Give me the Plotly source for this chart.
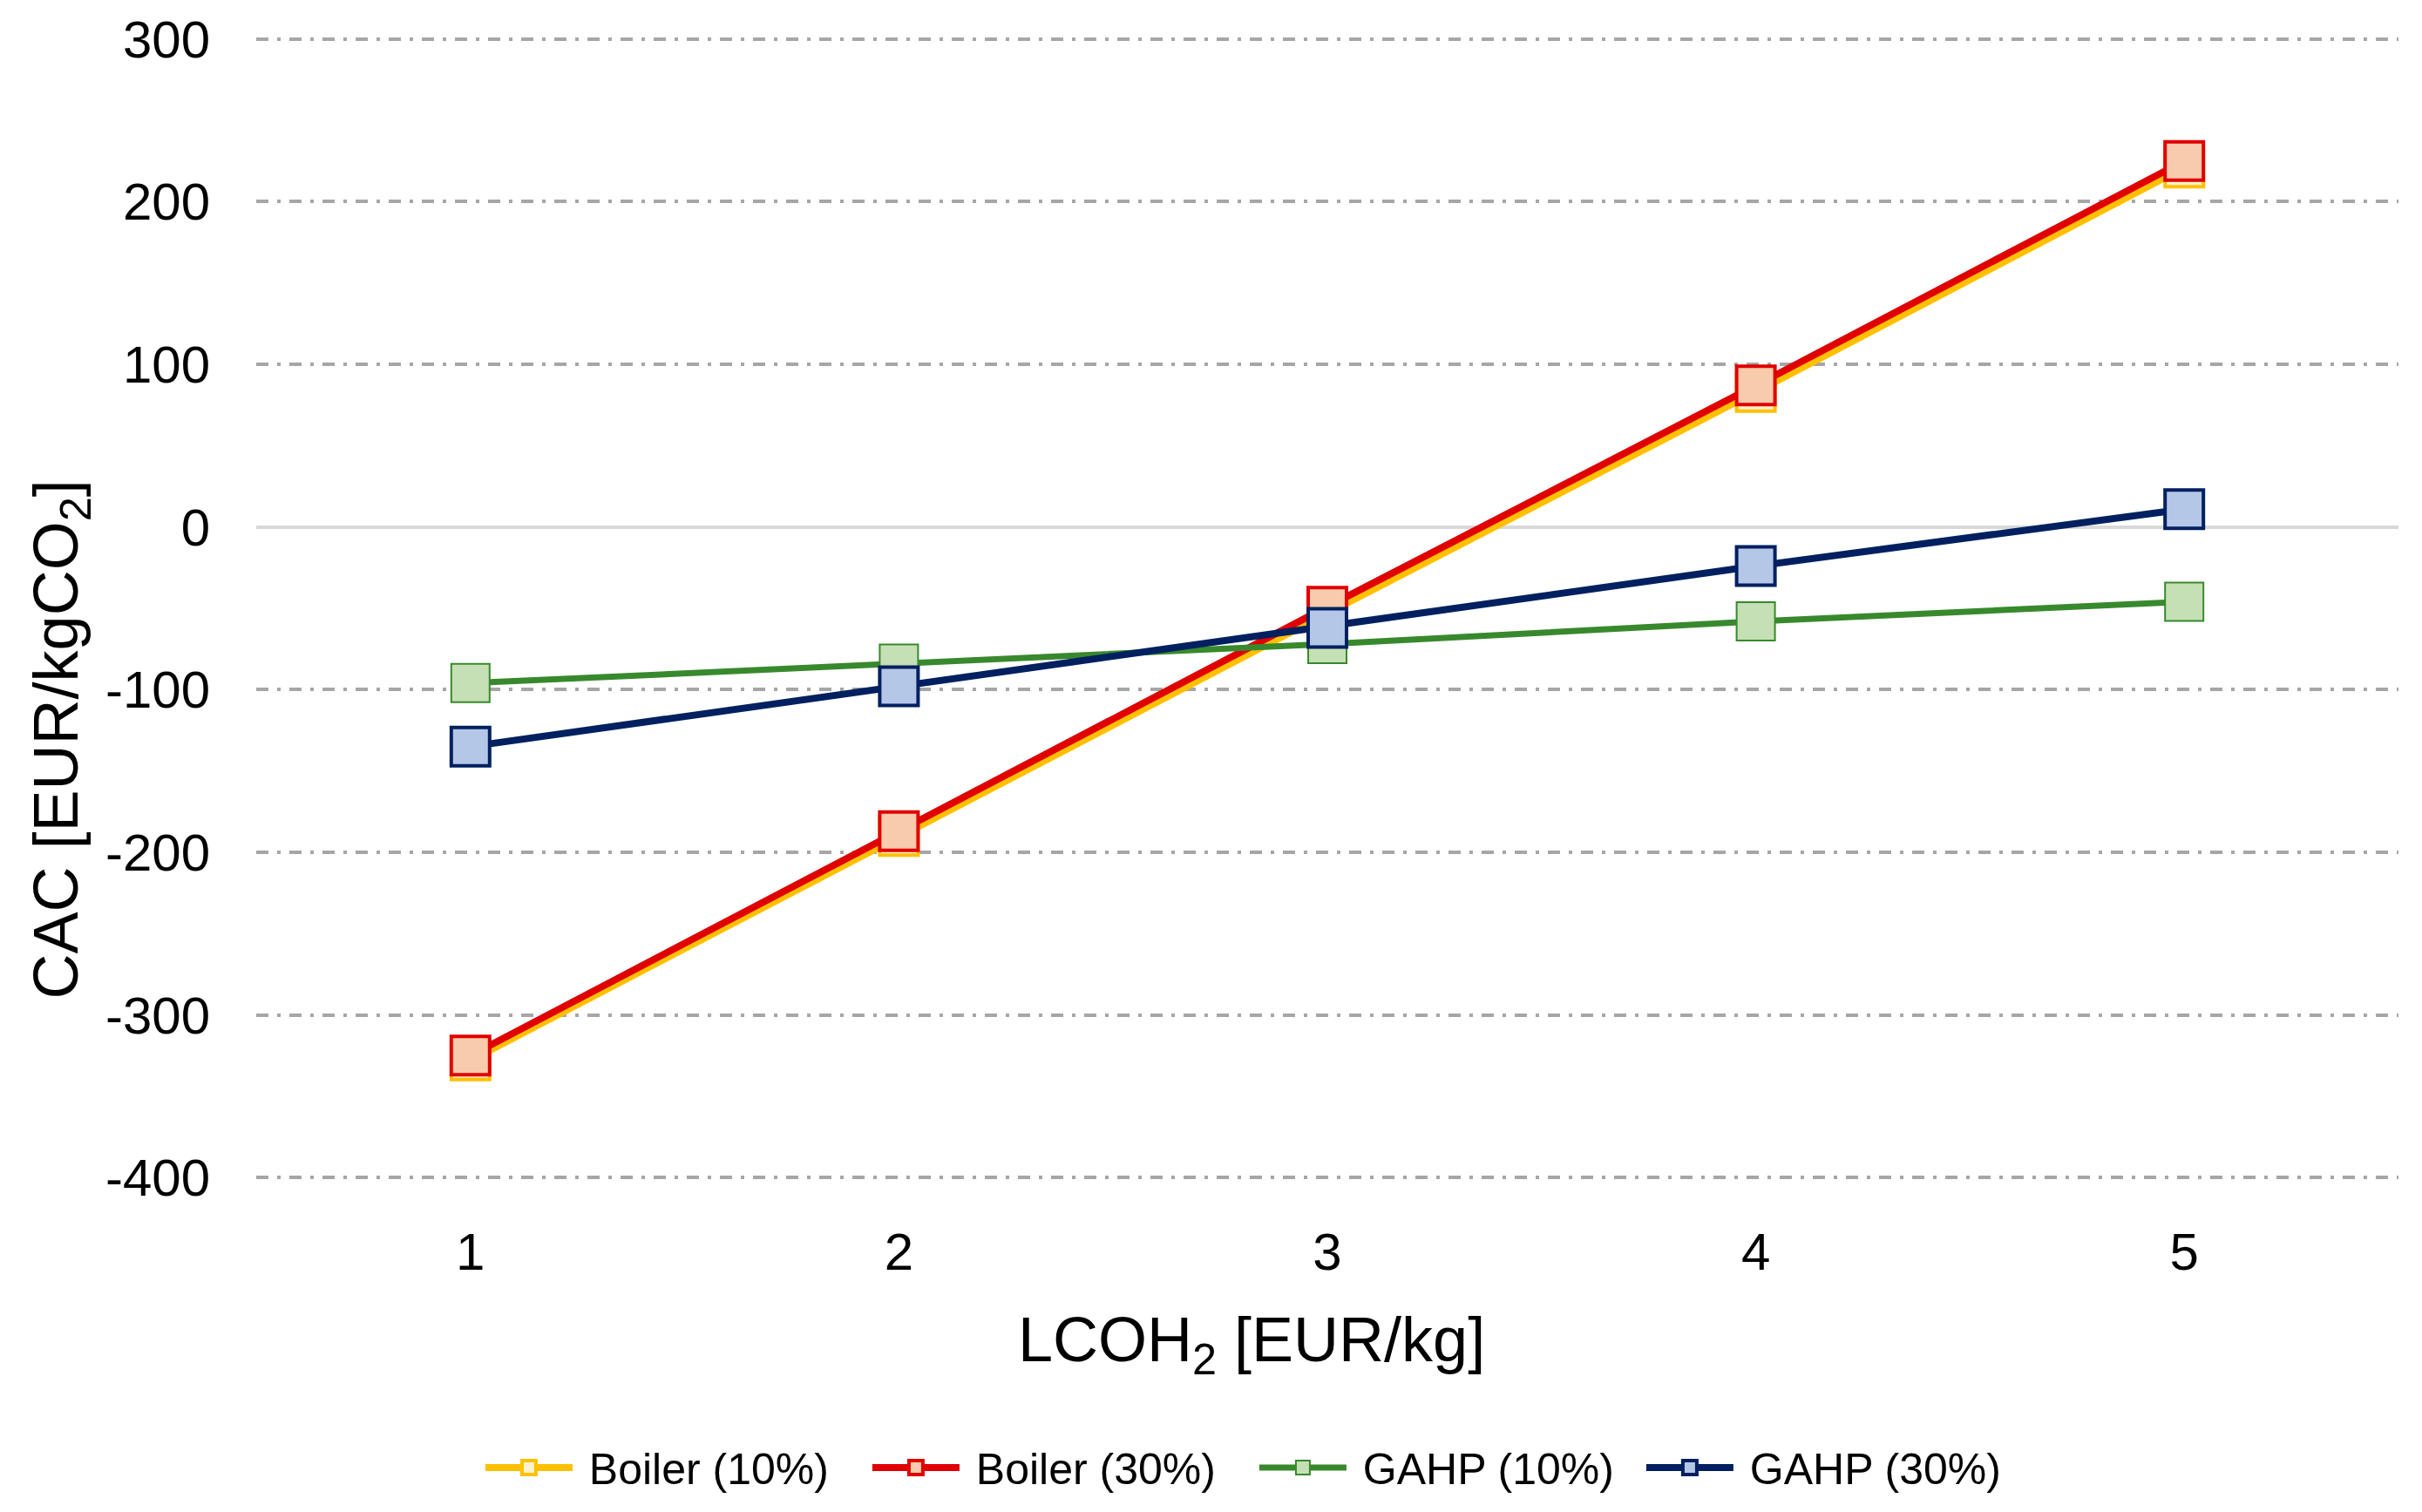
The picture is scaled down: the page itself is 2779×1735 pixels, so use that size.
import plotly.graph_objects as go

# ---- data ----
lcoh = [1, 2, 3, 4, 5]
x_tick_labels = ["1", "2", "3", "4", "5"]
y_tick_vals = [-400, -300, -200, -100, 0, 100, 200, 300]
y_tick_labels = ["-400", "-300", "-200", "-100", "0", "100", "200", "300"]
boiler_10 = [-328, -190, -53, 83, 221]
boiler_30 = [-325, -187, -49, 87, 225]
gahp_10 = [-96, -84, -72, -58, -46]
gahp_30 = [-135, -98, -62, -24, 11]

series_names = ["Boiler (10%)", "Boiler (30%)", "GAHP (10%)", "GAHP (30%)"]
series_values = [boiler_10, boiler_30, gahp_10, gahp_30]
line_colors = ["#FFC000", "#E00000", "#38892D", "#002060"]
fill_colors = ["#FFF2CC", "#F8CBAD", "#C5E0B4", "#B4C7E7"]
line_widths = [8, 8, 7, 8]
border_widths = [4, 4, 2, 4]

FONT = "Liberation Sans, Arial, sans-serif"
NB = "\u00a0"

fig = go.Figure()
for name, vals, lc, fc, lw, bw in zip(series_names, series_values, line_colors,
                                      fill_colors, line_widths, border_widths):
    fig.add_trace(go.Scatter(
        x=lcoh, y=vals, name=NB + name, mode="lines+markers",
        line=dict(color=lc, width=lw),
        marker=dict(symbol="square", size=44, color=fc,
                    line=dict(color=lc, width=bw)),
        cliponaxis=False,
    ))

W, H = 2779, 1735
ml, mr, mt, mb = 294, 27, 40, 351

fig.update_layout(
    width=W, height=H,
    margin=dict(l=ml, r=mr, t=mt, b=mb, pad=0),
    paper_bgcolor="white", plot_bgcolor="white",
    font=dict(family=FONT, color="black", size=60),
    showlegend=True,
    legend=dict(
        orientation="h", x=0.4662, y=-0.2515, xanchor="center", yanchor="middle",
        font=dict(family=FONT, size=50, color="black"),
        entrywidth=329, entrywidthmode="pixels", itemwidth=100,
        bgcolor="rgba(0,0,0,0)",
    ),
    xaxis=dict(
        range=[0.5, 5.5], tickmode="array", tickvals=lcoh, ticktext=x_tick_labels,
        showgrid=False, zeroline=False, showline=False,
        ticks="outside", ticklen=30, tickcolor="rgba(0,0,0,0)",
        tickfont=dict(family=FONT, size=60, color="black"),
    ),
    yaxis=dict(
        range=[-401.5, 301.5], tickmode="array", tickvals=y_tick_vals,
        ticktext=y_tick_labels,
        showgrid=True, gridcolor="#A6A6A6", gridwidth=3.5,
        griddash="14px,10px,4px,10px",
        zeroline=True, zerolinecolor="#D9D9D9", zerolinewidth=3.5,
        showline=False,
        ticks="outside", ticklen=40, tickcolor="rgba(0,0,0,0)",
        tickfont=dict(family=FONT, size=60, color="black"),
    ),
    annotations=[
        dict(text="LCOH<sub>2</sub> [EUR/kg]", xref="paper", yref="paper",
             x=0.4646, y=-0.1436, xanchor="center", yanchor="middle",
             showarrow=False, font=dict(family=FONT, size=72, color="black")),
        dict(text="CAC [EUR/kgCO<sub>2</sub>]", xref="paper", yref="paper",
             x=-0.0915, y=0.3854, xanchor="center", yanchor="middle",
             textangle=-90, showarrow=False,
             font=dict(family=FONT, size=72, color="black")),
    ],
)

fig.write_html("out.html", config={"displayModeBar": False},
               post_script="document.body.style.margin='0';")
